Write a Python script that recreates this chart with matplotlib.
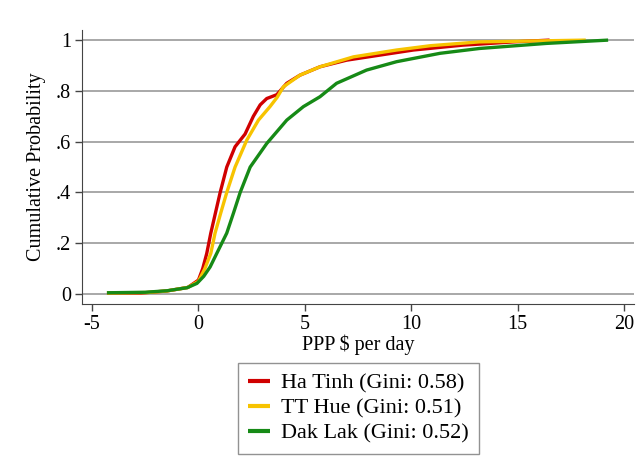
import matplotlib
matplotlib.use("Agg")
import matplotlib.pyplot as plt

plt.rcParams["font.family"] = ["Liberation Serif", "DejaVu Serif"]
plt.rcParams["axes.unicode_minus"] = False

# Cumulative distributions (PPP $ per day, cumulative share)
ha_tinh_x = [-4.3, -2.7, -1.5, -0.5, 0.0, 0.2, 0.39, 0.58, 0.8, 1.02, 1.33, 1.72, 2.19,
             2.58, 2.9, 3.21, 3.68, 4.15, 4.77, 5.71, 6.96, 8.53, 10.1, 12.4, 14.8, 16.5]
ha_tinh_y = [0.004, 0.004, 0.012, 0.026, 0.055, 0.10, 0.16, 0.24, 0.32, 0.40, 0.50, 0.58, 0.63,
             0.70, 0.745, 0.77, 0.785, 0.83, 0.862, 0.895, 0.921, 0.941, 0.961, 0.98, 0.993, 1.0]

tt_hue_x = [-4.3, -2.4, -1.5, -0.5, 0.0, 0.3, 0.58, 0.78, 1.05, 1.33, 1.72, 2.27, 2.82,
            3.36, 3.7, 3.99, 4.77, 5.71, 7.28, 9.31, 10.9, 13.2, 18.2]
tt_hue_y = [0.004, 0.006, 0.012, 0.026, 0.05, 0.10, 0.16, 0.24, 0.32, 0.40, 0.50, 0.606, 0.685,
            0.738, 0.775, 0.816, 0.862, 0.895, 0.934, 0.961, 0.978, 0.993, 1.0]

dak_lak_x = [-4.3, -2.5, -1.47, -0.53, -0.07, 0.25, 0.55, 0.86, 1.33, 1.65, 1.96, 2.43, 3.21,
             4.15, 4.93, 5.71, 6.49, 7.9, 9.31, 11.35, 13.2, 16.35, 19.25]
dak_lak_y = [0.005, 0.007, 0.013, 0.025, 0.042, 0.07, 0.107, 0.16, 0.24, 0.32, 0.40, 0.50, 0.593,
             0.685, 0.738, 0.777, 0.83, 0.882, 0.915, 0.948, 0.967, 0.987, 1.0]

labels = ["Ha Tinh (Gini: 0.58)", "TT Hue (Gini: 0.51)", "Dak Lak (Gini: 0.52)"]
colors = ["#d00000", "#f7c300", "#168a16"]

yticks = [0, 0.2, 0.4, 0.6, 0.8, 1.0]
ytick_labels = ["0", ".2", ".4", ".6", ".8", "1"]
xticks = [-5, 0, 5, 10, 15, 20]

fig = plt.figure(figsize=(6.36, 4.68), dpi=100)
ax = fig.add_axes([0.129, 0.350, 0.868, 0.586])

for xs, ys, lab, col in zip([ha_tinh_x, tt_hue_x, dak_lak_x],
                            [ha_tinh_y, tt_hue_y, dak_lak_y], labels, colors):
    ax.plot(xs, ys, color=col, linewidth=2.4, label=lab, solid_capstyle="butt")

ax.set_xlim(-5.47, 20.47)
ax.set_ylim(-0.04, 1.04)
ax.set_xticks(xticks)
ax.set_yticks(yticks)
ax.set_yticklabels(ytick_labels)
ax.tick_params(labelsize=14.5, length=5, width=1, color="#444444", pad=3)
ax.grid(axis="y", color="#9a9a9a", linewidth=1.2)
ax.set_axisbelow(True)
for side in ["top", "right"]:
    ax.spines[side].set_visible(False)
for side in ["left", "bottom"]:
    ax.spines[side].set_color("#444444")

ax.set_xlabel("PPP $ per day", fontsize=14.5, labelpad=0)
ax.set_ylabel("Cumulative Probability", fontsize=14.5, labelpad=7)

leg = ax.legend(loc="upper center", bbox_to_anchor=(0.5, -0.215), fontsize=16,
                frameon=True, fancybox=False, handlelength=1.0, handletextpad=0.5,
                labelspacing=0.2, borderpad=0.45, borderaxespad=0)
leg.get_frame().set_edgecolor("#777777")
leg.get_frame().set_linewidth(1)
for line in leg.get_lines():
    line.set_linewidth(3)

fig.savefig("out.png", dpi=100)
